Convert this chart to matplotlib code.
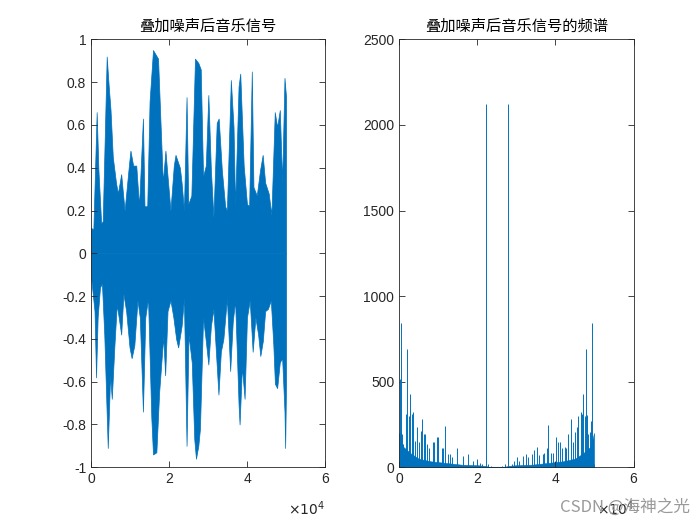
import numpy as np
import matplotlib.pyplot as plt
import matplotlib.ticker as mticker

plt.rcParams['font.family'] = ['Liberation Sans', 'Noto Sans CJK SC', 'DejaVu Sans']

# noisy music signal: envelope (sample index, amplitude)
up_x = [0, 600, 1450, 1900, 2600, 3000, 4020, 4540, 5000, 5580, 6400, 6870, 7730, 8600, 9700,
        10100, 10800, 11590, 12300, 13300, 13700, 14400, 15000, 15880, 17170, 17800, 18400,
        19060, 19600, 20350, 21200, 21640, 22760, 23200, 23800, 24470, 24900, 25700, 26630,
        27480, 28100, 28700, 29400, 30050, 30700, 31350, 32200, 32700, 33500, 34350, 34800,
        35810, 36500, 36900, 37790, 38220, 39100, 39940, 40500, 41180, 41600, 42450, 43300,
        43960, 44600, 45500, 46200, 47060, 47670, 48350, 48950, 49550, 49950]
up_y = [0.12, 0.11, 0.66, 0.39, 0.14, 0.15, 0.92, 0.78, 0.67, 0.45, 0.33, 0.28, 0.37, 0.20, 0.41,
        0.48, 0.41, 0.41, 0.22, 0.63, 0.22, 0.22, 0.71, 0.95, 0.91, 0.61, 0.33, 0.48, 0.36, 0.20,
        0.41, 0.46, 0.40, 0.33, 0.20, 0.73, 0.23, 0.27, 0.91, 0.89, 0.86, 0.36, 0.41, 0.74, 0.39,
        0.17, 0.61, 0.63, 0.39, 0.22, 0.20, 0.81, 0.59, 0.22, 0.78, 0.84, 0.41, 0.23, 0.22, 0.85,
        0.31, 0.27, 0.39, 0.46, 0.33, 0.28, 0.18, 0.66, 0.59, 0.67, 0.33, 0.82, 0.73]
lo_x = [0, 900, 1290, 1700, 2300, 2800, 3400, 4000, 4290, 4900, 5320, 6000, 6600, 7100, 7730,
        8300, 9000, 9870, 10400, 11100, 11900, 12500, 13300, 13900, 14600, 15450, 15880, 16740,
        17450, 18500, 18990, 19600, 20350, 21100, 21800, 22320, 23200, 23800, 24470, 24980,
        25800, 26450, 26880, 27480, 27900, 28700, 29400, 30050, 30700, 31350, 32050, 32640,
        33250, 33900, 34800, 35640, 36300, 36900, 37800, 38050, 38650, 39330, 39940, 40650,
        41400, 42100, 42800, 43360, 44000, 44600, 45300, 46050, 46700, 47100, 47670, 48350,
        48950, 49550, 49720, 49950]
lo_y = [-0.11, -0.27, -0.58, -0.30, -0.16, -0.14, -0.38, -0.74, -0.91, -0.57, -0.68, -0.43, -0.24,
        -0.30, -0.38, -0.19, -0.27, -0.44, -0.49, -0.43, -0.22, -0.30, -0.74, -0.30, -0.21, -0.77,
        -0.94, -0.93, -0.65, -0.39, -0.57, -0.27, -0.22, -0.30, -0.40, -0.44, -0.34, -0.21, -0.90,
        -0.38, -0.51, -0.87, -0.96, -0.90, -0.82, -0.30, -0.41, -0.52, -0.34, -0.26, -0.48, -0.66,
        -0.46, -0.40, -0.21, -0.55, -0.32, -0.22, -0.71, -0.80, -0.53, -0.68, -0.30, -0.22, -0.46,
        -0.30, -0.38, -0.48, -0.41, -0.27, -0.26, -0.22, -0.43, -0.61, -0.63, -0.51, -0.49, -0.74,
        -0.91, -0.61]

# spectrum peaks (frequency bin, magnitude)
pk_x = [100, 350, 450, 640, 1000, 1700, 2050, 2400, 2740, 3200, 3590, 4000, 4450, 5000, 5480,
        5800, 6250, 6680, 7100, 7700, 8550, 8950, 9740, 10000, 10900, 11200, 11800, 12600, 13000,
        13600, 14770, 16390, 17700, 18800, 20000, 20700, 21100, 22150, 22800, 23500,
        26400, 27200, 27950, 28800, 29450, 30100, 30700, 31780, 32400, 33000, 33900, 34500,
        35220, 35900, 36700, 37100, 37800, 38170, 38800, 39300, 40070, 40600, 41140, 41800,
        42400, 42800, 43270, 43950, 44400, 45020, 45500, 45900, 46580, 46900, 47150, 47500,
        47800, 48100, 48450, 48800, 49100, 49480, 49700, 49850]
pk_y = [516, 843, 212, 194, 135, 311, 692, 300, 429, 311, 321, 155, 233, 145, 212,
        282, 194, 194, 135, 115, 145, 145, 174, 174, 115, 115, 243, 76, 76,
        57, 115, 66, 76, 37, 47, 27, 18, 2120, 20, 10,
        10, 18, 2120, 20, 39, 57, 39, 66, 80, 60, 76, 100,
        119, 72, 76, 86, 115, 247, 86, 86, 176, 145, 145, 115,
        119, 115, 194, 282, 145, 204, 233, 300, 325, 311, 429, 300,
        692, 305, 194, 204, 272, 843, 37, 18]
# dense low-level floor of the spectrum
fl_x = [0, 1000, 2000, 3000, 5000, 8000, 12000, 16000, 20000, 22000, 23000, 27000, 28000,
        30000, 34000, 38000, 42000, 45000, 47000, 48000, 49000, 49900]
fl_y = [200, 120, 100, 80, 50, 35, 25, 15, 12, 8, 3, 3, 8, 12, 15, 25, 35, 50, 80, 100, 120, 200]

blue = '#0072BD'
dark = '#262626'


def tidy(v, p):
    v = round(v, 1)
    return '0' if v == 0 else '%g' % v


fig = plt.figure(figsize=(7, 5.25), dpi=100)
ax1 = fig.add_axes([0.13, 0.11, 0.3347, 0.815])
ax2 = fig.add_axes([0.5703, 0.11, 0.3347, 0.815])

ax1.fill_between(up_x, 0, up_y, color=blue, linewidth=0.5)
ax1.fill_between(lo_x, lo_y, 0, color=blue, linewidth=0.5)
ax1.set_xlim(0, 60000)
ax1.set_ylim(-1, 1)
ax1.set_yticks(np.arange(-1, 1.01, 0.2))
ax1.yaxis.set_major_formatter(mticker.FuncFormatter(tidy))
ax1.set_title('叠加噪声后音乐信号', fontsize=11, family=['Noto Sans CJK SC'], color='#000000')

ax2.fill_between(fl_x, 0, fl_y, color=blue, linewidth=0.4)
ax2.vlines(pk_x, 0, pk_y, color=blue, linewidth=0.7)
ax2.set_xlim(0, 60000)
ax2.set_ylim(0, 2500)
ax2.set_yticks(np.arange(0, 2501, 500))
ax2.set_title('叠加噪声后音乐信号的频谱', fontsize=11, family=['Noto Sans CJK SC'], color='#000000')

for ax in (ax1, ax2):
    ax.set_xticks([0, 20000, 40000, 60000])
    ax.xaxis.set_major_formatter(mticker.FuncFormatter(lambda v, p: '%g' % (v / 1e4)))
    ax.tick_params(direction='in', top=True, right=True, length=4, width=0.6,
                   labelsize=10, colors=dark, labelcolor=dark)
    for s in ax.spines.values():
        s.set_color(dark)
        s.set_linewidth(0.6)
    ax.text(1.0, -0.075, r'$\times10^4$', transform=ax.transAxes, ha='right', va='top',
            fontsize=10, color=dark)

fig.text(0.985, 0.018, 'CSDN @海神之光', ha='right', va='bottom', fontsize=12,
         color='#9a9a9a', family=['Noto Sans CJK SC', 'DejaVu Sans'])

plt.savefig('out.png', dpi=100)
